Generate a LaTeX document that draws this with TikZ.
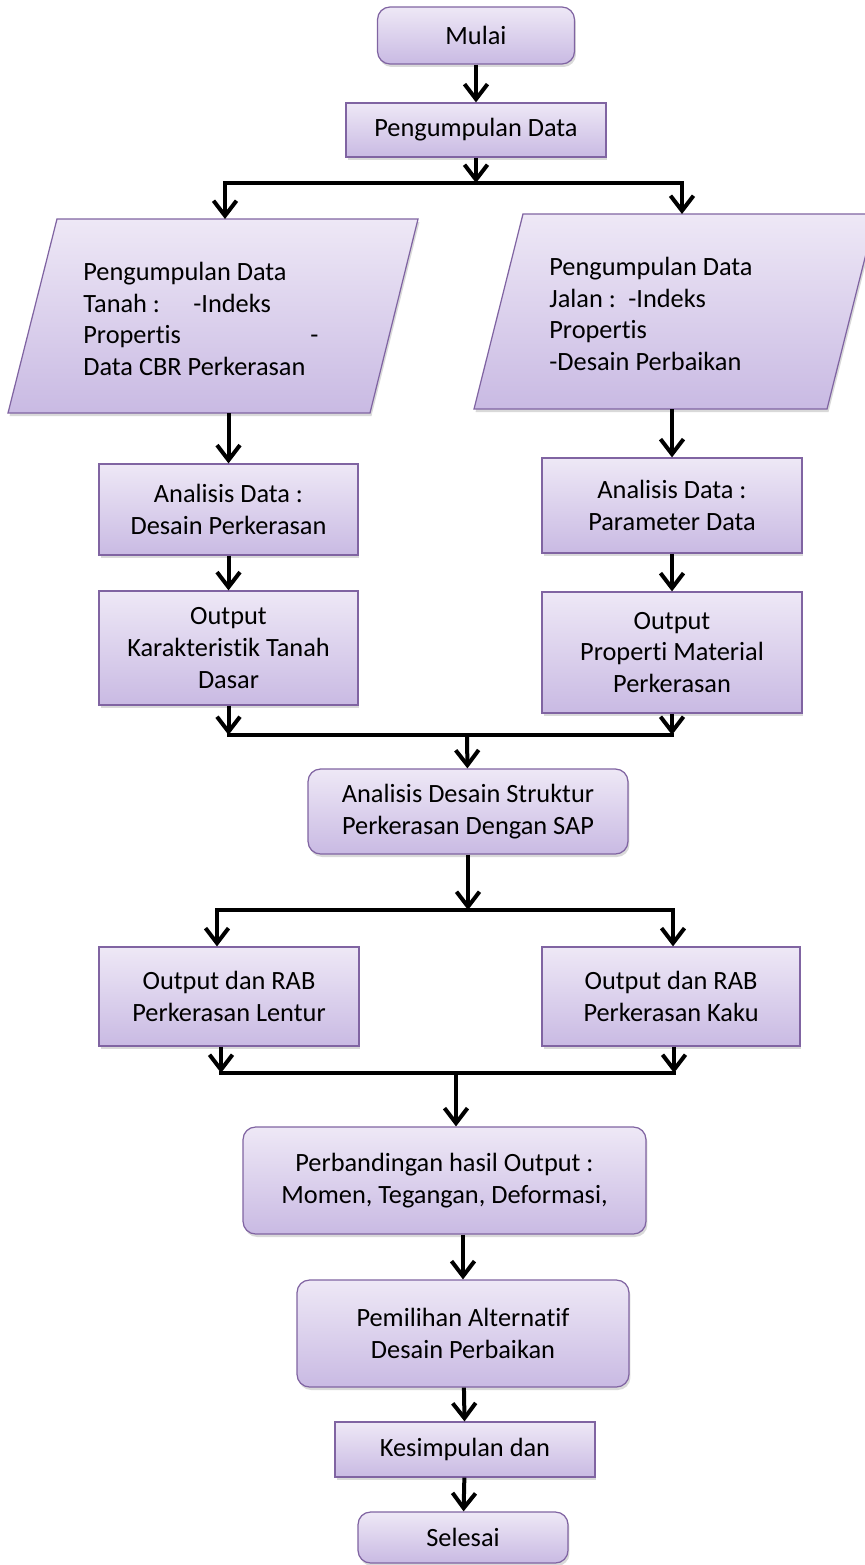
\documentclass[tikz,border=0pt]{standalone}
\usepackage{fontspec}
\setmainfont{Carlito}[Ligatures=NoCommon]
\usetikzlibrary{arrows.meta,shadows}
\definecolor{boxtop}{RGB}{238,232,246}
\definecolor{boxbot}{RGB}{201,186,227}
\definecolor{boxline}{RGB}{128,100,162}

\begin{document}
\begin{tikzpicture}[x=0.02cm,y=-0.02cm,font=\fontsize{15}{18}\selectfont,
  fillbox/.style={draw=boxline,line width=0.7pt,top color=boxtop,bottom color=boxbot,
    drop shadow={shadow xshift=0.03cm,shadow yshift=-0.06cm,opacity=0.3}},
  box/.style={fillbox,align=center,inner sep=0pt},
  rbox/.style={box,rounded corners=0.25cm},
  txt/.style={align=left,inner sep=0pt},
  arr/.style={line width=0.08cm,-{Straight Barb[length=0.3cm,width=0.46cm]}},
  bar/.style={line width=0.08cm,line cap=rect}]
  \clip (0,0) rectangle (865,1565);
  \node[rbox,minimum width=3.94cm,minimum height=1.14cm] (mulai) at (476,35.5) {Mulai};
  \node[box,minimum width=5.2cm,minimum height=1.08cm] (pd) at (476,130) {Pengumpulan Data};
  \path[fillbox] (57,219) -- (418,219) -- (370,413) -- (8,413) -- cycle;
  \path[fillbox] (523,214) -- (876,214) -- (827,409) -- (474,409) -- cycle;
  \node[txt,anchor=north west] (tanah) at (83,262) {Pengumpulan Data\\\makebox[2.2cm][l]{Tanah :}-Indeks\\\makebox[4.54cm][l]{Propertis}-\\Data CBR Perkerasan};
  \node[txt,anchor=north west] (jalan) at (549,257) {Pengumpulan Data\\\makebox[1.58cm][l]{Jalan :}-Indeks\\Propertis\\-Desain Perbaikan};
  \node[box,minimum width=5.18cm,minimum height=1.82cm] (ad1) at (228.5,509.5) {Analisis Data :\\Desain Perkerasan};
  \node[box,minimum width=5.2cm,minimum height=1.9cm] (ad2) at (672,505.5) {Analisis Data :\\Parameter Data};
  \node[box,minimum width=5.18cm,minimum height=2.28cm] (out1) at (228.5,648) {Output\\Karakteristik Tanah\\Dasar};
  \node[box,minimum width=5.2cm,minimum height=2.42cm] (out2) at (672,652.5) {Output\\Properti Material\\Perkerasan};
  \node[rbox,minimum width=6.4cm,minimum height=1.7cm] (sap) at (468,811.5) {Analisis Desain Struktur\\Perkerasan Dengan SAP};
  \node[box,minimum width=5.2cm,minimum height=1.98cm] (rab1) at (229,996.5) {Output dan RAB\\Perkerasan Lentur};
  \node[box,minimum width=5.16cm,minimum height=1.98cm] (rab2) at (671,996.5) {Output dan RAB\\Perkerasan Kaku};
  \node[rbox,minimum width=8.06cm,minimum height=2.14cm] (banding) at (444.5,1180.5) {Perbandingan hasil Output :\\Momen, Tegangan, Deformasi,};
  \node[rbox,minimum width=6.64cm,minimum height=2.14cm] (pilih) at (463,1333.5) {Pemilihan Alternatif\\Desain Perbaikan};
  \node[box,minimum width=5.2cm,minimum height=1.1cm] (simpul) at (465,1449.5) {Kesimpulan dan};
  \node[rbox,minimum width=4.2cm,minimum height=1.02cm] (selesai) at (463,1537.5) {Selesai};
  \coordinate (j1) at (476,183);
  \coordinate (j1l) at (225,183);
  \coordinate (j1r) at (682,183);
  \coordinate (tanahtop) at (225,219);
  \coordinate (jalantop) at (682,214);
  \coordinate (tanahbot) at (228.5,413);
  \coordinate (jalanbot) at (672,409);
  \coordinate (j2) at (467,735);
  \coordinate (j2l) at (228.5,735);
  \coordinate (j2r) at (672,735);
  \coordinate (j3) at (468,910);
  \coordinate (j3l) at (217,910);
  \coordinate (j3r) at (673,910);
  \coordinate (j4) at (456,1073);
  \coordinate (j4l) at (221,1073);
  \coordinate (j4r) at (674,1073);
  \draw[arr] (mulai) -- (pd);
  \draw[arr] (pd) -- (j1);
  \draw[bar] (j1l) -- (j1r);
  \draw[arr] (j1l) -- (tanahtop);
  \draw[arr] (j1r) -- (jalantop);
  \draw[arr] (tanahbot) -- (ad1);
  \draw[arr] (jalanbot) -- (ad2);
  \draw[arr] (ad1) -- (out1);
  \draw[arr] (ad2) -- (out2);
  \draw[arr] (out1) -- (j2l);
  \draw[arr] (out2) -- (j2r);
  \draw[bar] (j2l) -- (j2r);
  \draw[arr] (j2) -- (sap);
  \draw[arr] (sap) -- (j3);
  \draw[bar] (j3l) -- (j3r);
  \draw[arr] (j3l) -- (j3l |- rab1.north);
  \draw[arr] (j3r) -- (j3r |- rab2.north);
  \draw[arr] (rab1.south -| j4l) -- (j4l);
  \draw[arr] (rab2.south -| j4r) -- (j4r);
  \draw[bar] (j4l) -- (j4r);
  \draw[arr] (j4) -- (j4 |- banding.north);
  \draw[arr] (pilih |- banding.south) -- (pilih);
  \draw[arr] (pilih) -- (simpul);
  \draw[arr] (simpul) -- (selesai);
\end{tikzpicture}
\end{document}
